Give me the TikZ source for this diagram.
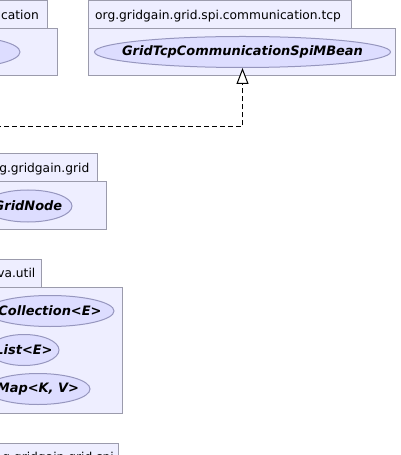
\documentclass[tikz,border=0pt]{standalone}
\usepackage{fontspec}
\setmainfont{DejaVu Sans}
\usetikzlibrary{shapes.geometric,arrows.meta}
\definecolor{pkgfill}{RGB}{238,238,255}
\definecolor{pkgline}{RGB}{155,155,172}
\definecolor{ifacefill}{RGB}{221,221,255}
\definecolor{ifaceline}{RGB}{150,150,190}
\tikzset{
	pkg/.style={draw=pkgline, fill=pkgfill, line width=1bp},
	pkgname/.style={anchor=base east, inner sep=0pt, font=\fontsize{12.3}{14}\selectfont},
	iface/.style={ellipse, draw=ifaceline, fill=ifacefill, line width=1bp, inner sep=0pt,
		minimum height=31bp, font=\fontsize{13}{15}\selectfont\bfseries\itshape},
	realize/.style={line width=1bp, dash pattern=on 5bp off 3bp,
		-{Triangle[length=16bp, width=12bp, fill=white]}}
}
\newcommand{\cname}[1]{\makebox[0pt]{#1}}

\begin{document}
\begin{tikzpicture}[x=1bp, y=-1bp]
		\useasboundingbox (0,0) rectangle (400,455);
		\clip (0,0) rectangle (400,455);

		% Packages
		\draw[pkg] (-10,1) rectangle (47,29);
		\draw[pkg] (-10,29) rectangle (57,76);
		\node[pkgname] (commname) at (39,19.5) {cation};
		%
		\draw[pkg] (88,1) rectangle (351,29);
		\draw[pkg] (88,29) rectangle (395,76);
		\node[pkgname, anchor=base west] (tcpname) at (95,19.5) {org.gridgain.grid.spi.communication.tcp};
		%
		\draw[pkg] (-10,154) rectangle (97,182);
		\draw[pkg] (-10,182) rectangle (106,229);
		\node[pkgname] (gridname) at (89.5,172.5) {g.gridgain.grid};
		%
		\draw[pkg] (-10,259) rectangle (41,287);
		\draw[pkg] (-10,287) rectangle (122,413);
		\node[pkgname] (utilname) at (35.5,277.5) {va.util};
		%
		\draw[pkg] (-10,443) rectangle (118,480);
		\node[pkgname] (spiname) at (114,461.5) {g.gridgain.grid.spi};

		% Interfaces
		\node[iface, minimum width=122bp] (commspi) at (-41,52) {};
		\node[iface, minimum width=296bp] (mbean) at (242.5,52) {\cname{GridTcpCommunicationSpiMBean}};
		\node[iface, minimum width=88bp, minimum height=32bp] (gridnode) at (28,206) {\cname{GridNode}};
		\node[iface, minimum width=128bp] (collection) at (50,311) {\cname{Collection<E>}};
		\node[iface, minimum width=70bp] (list) at (24,350) {\cname{List<E>}};
		\node[iface, minimum width=104bp] (map) at (38,389) {\cname{Map<K, V>}};

		% Realization
		\coordinate (tcpspi) at (-20,127);
		\draw[realize] (tcpspi) -| (mbean.south);
	\end{tikzpicture}
\end{document}
